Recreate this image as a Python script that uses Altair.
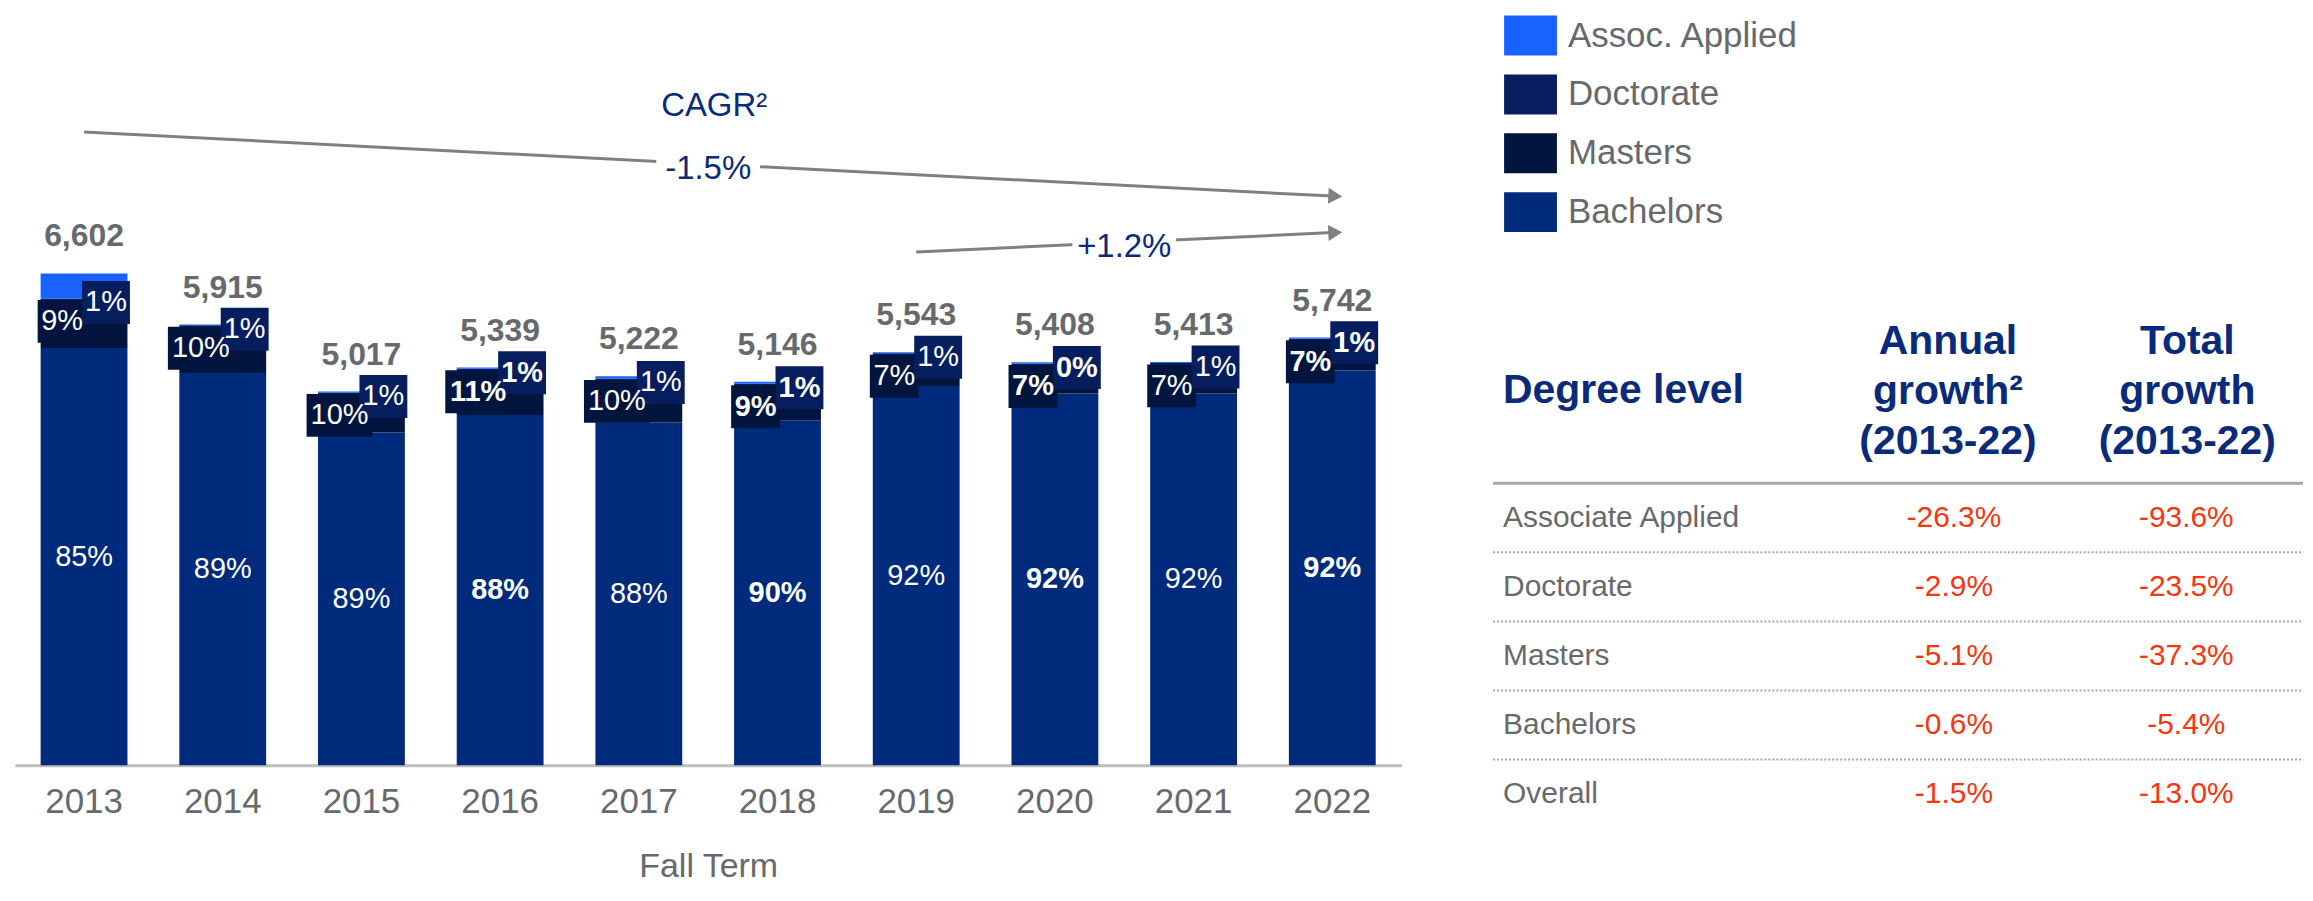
import math
import altair as alt
import pandas as pd

# ---------------- data ----------------
years = [2013, 2014, 2015, 2016, 2017, 2018, 2019, 2020, 2021, 2022]
bachelors = [5600, 5264, 4465, 4700, 4600, 4630, 5090, 4990, 4990, 5298]
masters = [600, 592, 497, 571, 540, 440, 390, 380, 365, 376]
doctorate = [66, 50, 42, 50, 52, 50, 50, 22, 45, 50]
assoc = [336, 9, 13, 18, 30, 26, 13, 16, 13, 18]
totals = [6602, 5915, 5017, 5339, 5222, 5146, 5543, 5408, 5413, 5742]
bach_pct = ["85%", "89%", "89%", "88%", "88%", "90%", "92%", "92%", "92%", "92%"]
mast_pct = ["9%", "10%", "10%", "11%", "10%", "9%", "7%", "7%", "7%", "7%"]
doct_pct = ["1%", "1%", "1%", "1%", "1%", "1%", "1%", "0%", "1%", "1%"]

degrees = ["Assoc. Applied", "Doctorate", "Masters", "Bachelors"]
degree_colors = ["#1863FF", "#061E5E", "#02153F", "#002A7B"]

cagr_labels = ["-1.5%", "+1.2%"]
arrow_start_year = [2013, 2019]
arrow_end_year = [2022, 2022]
arrow_start_val = [8500, 6890]
arrow_end_val = [7640, 7150]

table_levels = ["Associate Applied", "Doctorate", "Masters", "Bachelors", "Overall"]
table_annual = ["-26.3%", "-2.9%", "-5.1%", "-0.6%", "-1.5%"]
table_total = ["-93.6%", "-23.5%", "-37.3%", "-5.4%", "-13.0%"]

# ---------------- styles ----------------
FONT = "Liberation Sans"
GRAY = "#67696D"
NAVY = "#0A2B7A"
RED = "#F8350E"
ARROW = "#808080"
W1, H1 = 1390, 758
YMAX = 10150
PX = H1 / YMAX
STEP = W1 / (10 - 0.374 + 2 * 0.185)

# ---------------- frames ----------------
rank = {"Bachelors": 0, "Masters": 1, "Doctorate": 2, "Assoc. Applied": 3}
series = {"Bachelors": bachelors, "Masters": masters, "Doctorate": doctorate, "Assoc. Applied": assoc}
long_rows = []
for name, vals in series.items():
    for y, v in zip(years, vals):
        long_rows.append({"year": y, "degree": name, "count": v, "ord": rank[name]})
long_df = pd.DataFrame(long_rows)

lab_df = pd.DataFrame({
    "year": years,
    "bmid": [b / 2 for b in bachelors],
    "mdtop": [b + m + d for b, m, d in zip(bachelors, masters, doctorate)],
    "total": totals, "blab": bach_pct, "mlab": mast_pct, "dlab": doct_pct,
})

arrow_rows = []
for i in range(2):
    arrow_rows.append({"arrow": i, "year": arrow_start_year[i], "v": arrow_start_val[i]})
    arrow_rows.append({"arrow": i, "year": arrow_end_year[i], "v": arrow_end_val[i]})
arrow_df = pd.DataFrame(arrow_rows)
head_rows = []
for i in range(2):
    dx = (arrow_end_year[i] - arrow_start_year[i]) * STEP
    dy = (arrow_start_val[i] - arrow_end_val[i]) * PX
    ang = math.degrees(math.atan2(dy, dx)) % 360
    head_rows.append({"year": arrow_end_year[i], "v": arrow_end_val[i], "ang": ang})
head_df = pd.DataFrame(head_rows)
mid_df = pd.DataFrame({
    "year": [(a + b - 1) // 2 for a, b in zip(arrow_start_year, arrow_end_year)],
    "v": [(a + b) / 2 for a, b in zip(arrow_start_val, arrow_end_val)],
    "lab": cagr_labels,
})

# ---------------- left chart ----------------
xenc = alt.X(
    "year:O",
    scale=alt.Scale(paddingInner=0.374, paddingOuter=0.185),
    axis=alt.Axis(
        title="Fall Term", labelAngle=0, ticks=False, domainColor="#BDBDBD", domainWidth=3,
        labelFont=FONT, labelFontSize=35, labelColor=GRAY, labelPadding=19,
        titleFont=FONT, titleFontSize=34, titleFontWeight="normal", titleColor=GRAY, titlePadding=31,
    ),
)
yscale = alt.Scale(domain=[0, YMAX], nice=False, zero=True)


def Y(field):
    return alt.Y(field, scale=yscale, axis=None)


bars = alt.Chart(long_df).mark_bar().encode(
    x=xenc,
    y=alt.Y("count:Q", stack="zero", scale=yscale, axis=None),
    color=alt.Color(
        "degree:N",
        scale=alt.Scale(domain=degrees, range=degree_colors),
        legend=alt.Legend(
            title=None, orient="none", legendX=1493, legendY=0, direction="vertical",
            symbolType="M-1,-0.755H1V0.755H-1Z", symbolSize=2809, symbolStrokeWidth=0,
            symbolOpacity=1, labelFont=FONT, labelFontSize=35, labelColor=GRAY,
            labelOffset=11, rowPadding=12, labelLimit=500,
        ),
    ),
    order=alt.Order("ord:Q", sort="ascending"),
)

base = alt.Chart(lab_df)
BOLD = "datum.year >= 2016 && datum.year % 2 == 0"
NOTBOLD = "!(" + BOLD + ")"
M_DX, M_DY = -22, 23
D_DX, D_DY = 22, 4

m_box3 = base.transform_filter("length(datum.mlab) == 3").mark_point(
    shape="M-1,-0.652H1V0.652H-1Z", size=66 * 66, filled=True, opacity=1,
    color=degree_colors[2], strokeWidth=0, xOffset=M_DX, yOffset=M_DY,
).encode(x=xenc, y=Y("mdtop:Q"))
m_box2 = base.transform_filter("length(datum.mlab) == 2").mark_point(
    shape="M-1,-0.878H1V0.878H-1Z", size=49 * 49, filled=True, opacity=1,
    color=degree_colors[2], strokeWidth=0, xOffset=M_DX, yOffset=M_DY,
).encode(x=xenc, y=Y("mdtop:Q"))
d_box = base.mark_point(
    shape="M-1,-0.896H1V0.896H-1Z", size=48 * 48, filled=True, opacity=1,
    color=degree_colors[1], strokeWidth=0, xOffset=D_DX, yOffset=D_DY,
).encode(x=xenc, y=Y("mdtop:Q"))


def lab_layers(field, yfield, xo, yo):
    out = []
    for test, w in ((BOLD, "bold"), (NOTBOLD, "normal")):
        out.append(
            base.transform_filter(test).mark_text(
                font=FONT, fontSize=29, fontWeight=w, color="white",
                baseline="middle", align="center", xOffset=xo, yOffset=yo,
            ).encode(x=xenc, y=Y(yfield), text=field + ":N")
        )
    return out


b_txt = lab_layers("blab", "bmid:Q", 0, 0)
m_txt = lab_layers("mlab", "mdtop:Q", M_DX, M_DY)
d_txt = lab_layers("dlab", "mdtop:Q", D_DX, D_DY)

tot_txt = base.mark_text(
    font=FONT, fontSize=32, fontWeight="bold", color=GRAY, baseline="middle", yOffset=-37,
).encode(x=xenc, y=Y("total:Q"), text=alt.Text("total:Q", format=","))

arr_line = alt.Chart(arrow_df).mark_line(color=ARROW, strokeWidth=3).encode(
    x=xenc, y=Y("v:Q"), detail="arrow:N"
)
arr_head = alt.Chart(head_df).mark_point(
    shape="triangle-right", size=260, filled=True, opacity=1, color=ARROW, strokeWidth=0, xOffset=3,
).encode(x=xenc, y=Y("v:Q"), angle=alt.Angle("ang:Q", scale=None))
mid_bg = alt.Chart(mid_df).mark_point(
    shape="M-1,-0.2H1V0.2H-1Z", size=104 * 104, filled=True, opacity=1, color="white",
    strokeWidth=0, xOffset=STEP / 2,
).encode(x=xenc, y=Y("v:Q"))
mid_txt = alt.Chart(mid_df).mark_text(
    font=FONT, fontSize=33, color=NAVY, baseline="middle", xOffset=STEP / 2, yOffset=5,
).encode(x=xenc, y=Y("v:Q"), text="lab:N")
cagr_txt = alt.Chart(mid_df.iloc[:1]).mark_text(
    text="CAGR²", font=FONT, fontSize=33, color=NAVY, baseline="middle",
    xOffset=STEP / 2 + 6, yOffset=-58,
).encode(x=xenc, y=Y("v:Q"))

left = alt.layer(
    bars, m_box3, m_box2, d_box, *b_txt, *m_txt, *d_txt, tot_txt,
    arr_line, mid_bg, arr_head, mid_txt, cagr_txt,
).properties(width=W1, height=H1)

# ---------------- right chart (table) ----------------
W2, H2 = 812, 820
tbl = pd.DataFrame({"idx": list(range(5)), "level": table_levels,
                    "annual": table_annual, "totalg": table_total})
ys2 = alt.Scale(domain=[0, 4], range=[510, 787], nice=False, zero=False)
Y2 = alt.Y("idx:Q", scale=ys2, axis=None)

row_lab = alt.Chart(tbl).mark_text(
    font=FONT, fontSize=30, color=GRAY, align="left", baseline="middle"
).encode(x=alt.value(10), y=Y2, text="level:N")
ann_lab = alt.Chart(tbl).mark_text(
    font=FONT, fontSize=30, color=RED, align="center", baseline="middle"
).encode(x=alt.value(462), y=Y2, text="annual:N")
tot_lab = alt.Chart(tbl).mark_text(
    font=FONT, fontSize=30, color=RED, align="center", baseline="middle"
).encode(x=alt.value(695), y=Y2, text="totalg:N")

div_df = pd.DataFrame({"idx": [i + 0.5 for i in range(4)]})
dividers = alt.Chart(div_df).mark_rule(color="#A8A8A8", strokeWidth=2, strokeDash=[2, 2]).encode(
    x=alt.value(0), x2=alt.value(W2), y=Y2
)
hline = alt.Chart(pd.DataFrame({"idx": [-0.5]})).mark_rule(color="#A8A8A8", strokeWidth=3).encode(
    x=alt.value(0), x2=alt.value(W2), y=Y2
)


def header(txt, x, y, align):
    return alt.Chart(pd.DataFrame({"t": [txt]})).mark_text(
        font=FONT, fontSize=41, fontWeight="bold", color=NAVY, align=align,
        baseline="middle", lineBreak="\n", lineHeight=50,
    ).encode(x=alt.value(x), y=alt.value(y), text="t:N")


h1 = header("Degree level", 10, 383, "left")
h2 = header("Annual\ngrowth²\n(2013-22)", 456, 334, "center")
h3 = header("Total\ngrowth\n(2013-22)", 696, 334, "center")

right = alt.layer(hline, dividers, row_lab, ann_lab, tot_lab, h1, h2, h3).properties(width=W2, height=H2)

chart = (
    alt.hconcat(left, right, spacing=90)
    .properties(padding={"left": 7, "top": 0, "right": 0, "bottom": 0})
    .configure_view(stroke=None)
)

chart.save("out.html", embed_options={"renderer": "svg", "actions": False})
